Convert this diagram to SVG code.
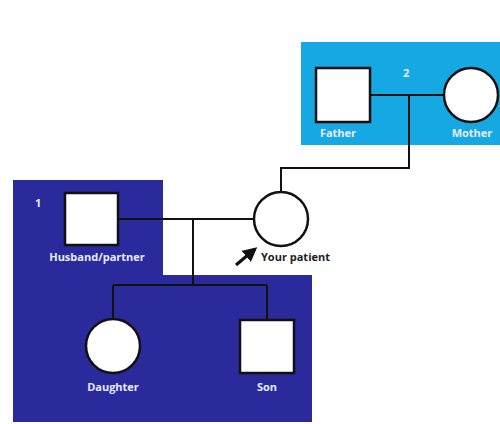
<svg xmlns="http://www.w3.org/2000/svg" width="500" height="424" viewBox="0 0 500 424">
<style>
.sym{fill:#fff;stroke:#111;stroke-width:2.5}
.ln{fill:none;stroke:#111;stroke-width:2}
.lbl{font-family:"Open Sans","Liberation Sans",Arial,sans-serif;font-size:11px;font-weight:bold;fill:#e8ecff;text-anchor:middle}
.num{font-family:"Open Sans","Liberation Sans",Arial,sans-serif;font-size:11px;font-weight:bold;fill:#e8ecff}
.dark{font-family:"Open Sans","Liberation Sans",Arial,sans-serif;font-size:11px;font-weight:bold;fill:#222}
</style>
<defs>
<marker id="ah" viewBox="0 0 10 10" refX="8" refY="5" markerWidth="4.5" markerHeight="4.5" orient="auto">
<path d="M0,0 L10,5 L0,10 z" fill="#111"/>
</marker>
</defs>
<rect width="500" height="424" fill="#fff"/>
<g id="bg">
<rect x="301" y="42" width="199" height="103" fill="#15a8e3"/>
<path d="M13,180 H163 V275 H312 V422 H13 Z" fill="#2a2a9c"/>
<text class="num" x="403" y="77">2</text>
<text class="num" x="35" y="207">1</text>
</g>
<g id="connectors">
<path class="ln" d="M370,95 H444"/>
<path class="ln" d="M409,95 V168 H281 V192"/>
<path class="ln" d="M118,219 H255"/>
<path class="ln" d="M193,219 V285"/>
<path class="ln" d="M113,285 H267"/>
<path class="ln" d="M113,285 V320"/>
<path class="ln" d="M267,285 V320"/>
</g>
<g id="father"><rect class="sym" x="316" y="68" width="54" height="54"/><text class="lbl" x="338" y="137">Father</text></g>
<g id="mother"><circle class="sym" cx="471" cy="95" r="27"/><text class="lbl" x="472" y="137">Mother</text></g>
<g id="husband"><rect class="sym" x="65" y="193" width="53" height="52"/><text class="lbl" x="97" y="261">Husband/partner</text></g>
<g id="patient"><circle class="sym" cx="281" cy="219" r="27"/>
<path d="M236,265 L255,249" stroke="#111" stroke-width="3.2" marker-end="url(#ah)"/>
<text class="dark" x="261" y="261">Your patient</text></g>
<g id="daughter"><circle class="sym" cx="113" cy="346" r="27"/><text class="lbl" x="113" y="391">Daughter</text></g>
<g id="son"><rect class="sym" x="240" y="320" width="54" height="53"/><text class="lbl" x="267" y="391">Son</text></g>
</svg>
